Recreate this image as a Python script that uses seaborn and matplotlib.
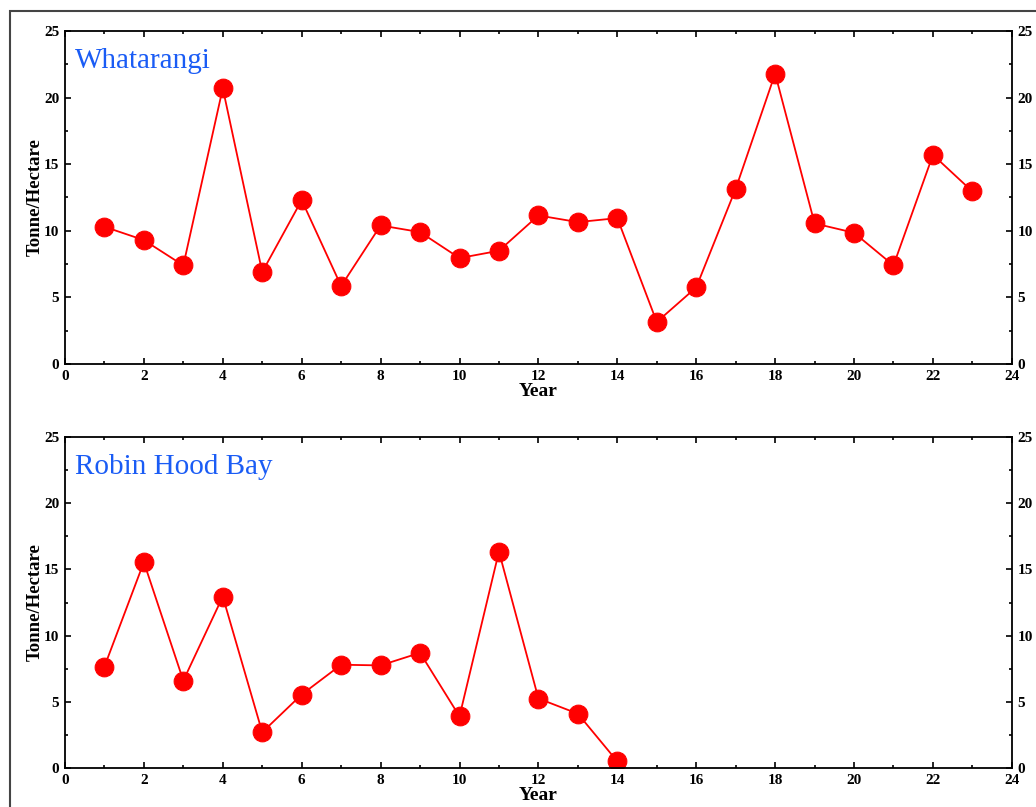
import matplotlib
matplotlib.use("Agg")
import matplotlib.pyplot as plt
from matplotlib.ticker import MultipleLocator
from matplotlib.patches import Rectangle
import seaborn as sns
import pandas as pd

years_w = list(range(1, 24))
whatarangi = [10.3, 9.3, 7.4, 20.7, 6.9, 12.3, 5.85, 10.4, 9.9, 7.95, 8.5, 11.15,
              10.65, 10.95, 3.15, 5.75, 13.15, 21.8, 10.55, 9.85, 7.4, 15.7, 12.95]
years_r = list(range(1, 15))
robin_hood = [7.65, 15.55, 6.6, 12.95, 2.7, 5.55, 7.8, 7.75, 8.7, 3.9, 16.35, 5.25, 4.1, 0.5]

titles = ["Whatarangi", "Robin Hood Bay"]

sns.set_style("ticks")
plt.rcParams["font.family"] = ["Liberation Serif", "DejaVu Serif"]
plt.rcParams["text.color"] = "black"
plt.rcParams["axes.labelcolor"] = "black"

fig = plt.figure(figsize=(10.36, 8.07), dpi=100)
fig.patches.append(Rectangle((10 / 1036, -0.1), 1.2, 1 - 11 / 807 + 0.1,
                             transform=fig.transFigure, fill=False,
                             edgecolor="#444444", linewidth=1.5, zorder=-1))

positions = [[0.0627, 0.549, 0.914, 0.4126], [0.0627, 0.0483, 0.914, 0.4102]]
datasets = [(years_w, whatarangi), (years_r, robin_hood)]

for pos, (xs, ys), title in zip(positions, datasets, titles):
    ax = fig.add_axes(pos)
    df = pd.DataFrame({"Year": xs, "Value": ys})
    sns.lineplot(data=df, x="Year", y="Value", ax=ax, color="#ff0000",
                 linewidth=1.3, marker="o", markersize=13.5,
                 markeredgecolor="#ff0000", markerfacecolor="#ff0000")
    ax.set_xlim(0, 24)
    ax.set_ylim(0, 25)
    ax.xaxis.set_major_locator(MultipleLocator(2))
    ax.xaxis.set_minor_locator(MultipleLocator(1))
    ax.yaxis.set_major_locator(MultipleLocator(5))
    ax.yaxis.set_minor_locator(MultipleLocator(2.5))
    ax.tick_params(which="both", direction="in", top=True, right=True,
                   labelright=True, colors="black", width=1.2)
    ax.tick_params(which="major", length=4, labelsize=11, pad=4)
    ax.tick_params(which="minor", length=2)
    for t in ax.xaxis.get_major_ticks() + ax.yaxis.get_major_ticks():
        t.label1.set_fontweight("bold")
        t.label2.set_fontweight("bold")
    for sp in ax.spines.values():
        sp.set_linewidth(1.3)
        sp.set_color("black")
    ax.set_xlabel("Year", fontsize=14, fontweight="bold", labelpad=0.5, color="black")
    ax.set_ylabel("Tonne/Hectare", fontsize=13.5, fontweight="bold", labelpad=0.5,
                  color="black")
    ax.text(0.011, 0.95, title, transform=ax.transAxes, fontsize=21,
            color="#1a5cf5", va="top", ha="left")

fig.savefig("out.png", dpi=100)
